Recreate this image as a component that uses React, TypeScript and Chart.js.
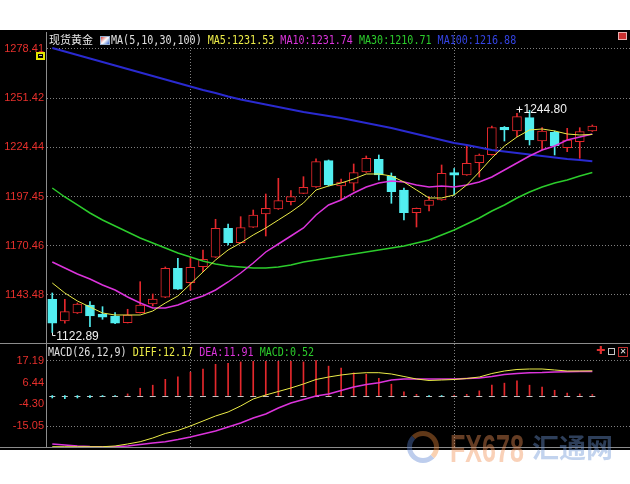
import React, { useEffect, useRef } from 'react';
import { Chart, registerables } from 'chart.js';

Chart.register(...registerables);

// ---------- data ----------
const opens = [1141.12, 1129.22, 1133.61, 1138.0, 1132.9, 1131.96, 1128.29, 1133.77, 1138.55, 1142.22, 1158.13, 1150.23, 1159.01, 1164.16, 1180.07, 1172.17, 1180.62, 1187.91, 1190.65, 1194.66, 1199.26, 1202.72, 1217.15, 1203.27, 1204.75, 1210.95, 1217.91, 1208.75, 1201.07, 1188.62, 1192.57, 1195.59, 1210.56, 1209.3, 1215.99, 1220.44, 1235.47, 1233.44, 1240.73, 1227.95, 1232.72, 1224.28, 1227.57, 1233.44];
const highs = [1144.58, 1141.12, 1139.1, 1139.81, 1137.07, 1133.77, 1135.64, 1150.78, 1144.03, 1158.84, 1163.61, 1164.16, 1168.16, 1185.0, 1182.43, 1186.43, 1190.1, 1198.88, 1207.49, 1200.69, 1208.37, 1218.19, 1217.53, 1207.11, 1215.34, 1219.72, 1220.27, 1210.4, 1202.17, 1191.2, 1197.4, 1214.79, 1212.87, 1225.76, 1220.8, 1236.18, 1235.9, 1243.14, 1244.8, 1235.25, 1233.44, 1234.91, 1235.25, 1236.73];
const lows = [1122.89, 1127.96, 1133.33, 1126.09, 1130.15, 1127.7, 1128.13, 1133.61, 1137.45, 1142.0, 1146.5, 1146.22, 1156.26, 1164.0, 1170.91, 1172.0, 1180.5, 1175.84, 1190.4, 1192.85, 1199.1, 1202.55, 1203.27, 1195.75, 1200.53, 1210.67, 1206.56, 1193.78, 1184.62, 1180.78, 1189.56, 1195.4, 1198.33, 1209.1, 1208.21, 1220.2, 1227.95, 1230.31, 1225.76, 1223.01, 1220.27, 1222.08, 1218.46, 1233.17];
const closes = [1127.96, 1134.32, 1138.55, 1131.96, 1131.25, 1127.96, 1132.51, 1138.0, 1141.29, 1158.13, 1146.61, 1158.68, 1163.06, 1180.07, 1172.17, 1180.4, 1187.36, 1191.04, 1195.21, 1197.4, 1202.55, 1216.6, 1203.82, 1205.35, 1210.56, 1218.46, 1209.3, 1200.14, 1188.62, 1191.04, 1195.59, 1210.23, 1209.14, 1215.72, 1220.27, 1235.36, 1233.98, 1241.28, 1228.5, 1233.44, 1225.37, 1228.5, 1233.05, 1236.18];

const ma5 = [1150.06, 1144.58, 1140.19, 1136.9, 1133.61, 1132.51, 1132.51, 1132.51, 1134.7, 1139.09, 1142.93, 1149.51, 1156.09, 1162.68, 1168.17, 1172.0, 1176.4, 1180.23, 1184.62, 1189.0, 1193.94, 1201.07, 1203.27, 1204.92, 1207.11, 1209.85, 1209.85, 1208.75, 1205.46, 1201.07, 1196.69, 1196.69, 1198.33, 1203.82, 1210.95, 1218.63, 1225.2, 1230.14, 1233.98, 1234.53, 1233.44, 1231.79, 1231.24, 1231.53];
const ma10 = [1161.58, 1158.29, 1154.99, 1152.25, 1148.96, 1146.22, 1142.38, 1139.09, 1136.35, 1136.35, 1137.99, 1140.74, 1142.93, 1146.22, 1150.61, 1155.54, 1161.03, 1167.07, 1171.45, 1175.84, 1180.23, 1187.36, 1192.85, 1195.59, 1199.43, 1202.72, 1204.92, 1206.01, 1205.46, 1203.82, 1202.72, 1203.27, 1202.72, 1203.82, 1205.46, 1208.2, 1212.04, 1215.88, 1219.72, 1223.01, 1225.2, 1228.5, 1230.14, 1231.74];
const ma30 = [1202.17, 1197.23, 1192.85, 1188.46, 1184.62, 1181.33, 1178.04, 1174.74, 1172.0, 1169.26, 1166.52, 1164.33, 1162.13, 1160.49, 1159.39, 1158.84, 1158.29, 1158.29, 1158.84, 1159.94, 1161.59, 1162.68, 1163.78, 1164.88, 1165.99, 1167.07, 1168.17, 1169.26, 1170.36, 1172.0, 1173.65, 1176.4, 1179.15, 1182.43, 1185.72, 1189.56, 1192.85, 1196.69, 1199.97, 1202.72, 1204.92, 1206.56, 1208.75, 1210.71];
const ma100 = [1278.96, 1277.04, 1275.12, 1273.2, 1271.28, 1269.36, 1267.44, 1265.52, 1263.6, 1261.68, 1259.76, 1257.84, 1255.92, 1254.28, 1252.36, 1250.71, 1249.34, 1247.97, 1246.6, 1245.23, 1243.86, 1242.76, 1241.66, 1240.56, 1239.19, 1237.82, 1236.45, 1235.08, 1233.43, 1231.79, 1230.14, 1228.5, 1226.85, 1225.76, 1224.39, 1223.02, 1222.19, 1221.37, 1220.55, 1219.72, 1218.9, 1218.08, 1217.53, 1216.88];

const diff = [-25.26, -25.26, -25.26, -25.26, -25.26, -24.91, -23.93, -22.79, -20.97, -18.74, -17.26, -15.04, -12.57, -10.11, -8.13, -5.17, -1.71, 0.26, 1.99, 3.71, 5.69, 7.91, 9.14, 10.13, 10.87, 11.27, 11.27, 10.63, 9.39, 8.16, 7.42, 7.66, 7.91, 8.4, 9.14, 10.87, 12.11, 12.85, 13.09, 13.09, 12.6, 12.11, 12.11, 12.17];
const dea = [-23.93, -24.42, -24.91, -25.16, -25.26, -25.26, -24.91, -24.17, -23.43, -22.79, -21.71, -20.47, -18.99, -17.51, -15.54, -13.57, -11.1, -9.13, -6.16, -3.69, -1.96, -0.23, 0.76, 2.48, 4.21, 5.44, 6.33, 7.66, 8.16, 8.16, 8.16, 8.16, 8.16, 8.4, 8.65, 9.39, 10.38, 10.87, 11.27, 11.37, 11.61, 11.76, 11.86, 11.91];
const macdHist = [-1.2, -1.5, -1.2, -1.0, -0.5, -0.3, 0.8, 3.6, 5.1, 8.0, 9.2, 11.5, 13.0, 15.4, 15.9, 16.6, 16.9, 16.9, 16.9, 16.9, 16.6, 17.19, 14.5, 13.5, 11.2, 10.5, 8.5, 5.6, 1.8, 0.6, -0.5, -0.3, 0.2, 0.6, 2.3, 5.1, 6.1, 7.2, 5.1, 4.2, 2.6, 1.2, 0.8, 0.52];

const priceTicks = [1143.48, 1170.46, 1197.45, 1224.44, 1251.42, 1278.41];
const macdTicks = [-15.05, -4.3, 6.44, 17.19];
const macdGridTicks = [-15.05, 17.19];
const monthStartIdx = [11, 32];

// ---------- styles ----------
const RED = '#e4282c';
const CYAN = '#52eef0';
const GRID = 'rgba(150,150,150,0.85)';
const AXIS = '#8c8c8c';
const LABEL_RED = '#e8302c';
const C_MA5 = '#ecec48';
const C_MA10 = '#dc34dc';
const C_MA30 = '#2ccc2c';
const C_MA100 = '#2a2ad0';

const PRICE_MIN = 1116.6;
const PRICE_MAX = 1287.73;
const MACD_MIN = -25.9;
const MACD_MAX = 25.43;
const X_MIN = -0.5;
const X_MAX = 46;

const pts = (arr: number[]) => arr.map((v, i) => ({ x: i, y: v }));
const isUp = opens.map((o, i) => closes[i] >= o);
const last = (a: number[]) => a[a.length - 1].toFixed(2);

function xScale(): any {
  return {
    type: 'linear',
    min: X_MIN,
    max: X_MAX,
    offset: false,
    afterBuildTicks: (s: any) => {
      s.ticks = monthStartIdx.map((v) => ({ value: v }));
    },
    afterFit: (s: any) => {
      s.height = 0;
      s.paddingLeft = 0;
      s.paddingRight = 0;
    },
    ticks: { display: false },
    grid: { color: GRID, drawTicks: false, offset: false, lineWidth: 1 },
    border: { display: false, dash: [1, 2] },
  };
}

function yScale(ticks: number[], min: number, max: number, gridColor: any): any {
  return {
    type: 'linear',
    position: 'left',
    min,
    max,
    beginAtZero: false,
    afterBuildTicks: (s: any) => {
      s.ticks = ticks.map((v) => ({ value: v }));
    },
    afterFit: (s: any) => {
      s.width = 46;
      s.paddingTop = 0;
      s.paddingBottom = 0;
    },
    ticks: {
      color: LABEL_RED,
      padding: 2,
      autoSkip: false,
      font: { family: '"Liberation Sans", Arial, sans-serif', size: 11 },
      callback: (v: any) => Number(v).toFixed(2),
    },
    grid: { color: gridColor, drawTicks: false, lineWidth: 1 },
    border: { display: true, color: AXIS, width: 1, dash: [1, 2] },
  };
}

const extremaPlugin = {
  id: 'extrema',
  afterDatasetsDraw(chart: any) {
    const { ctx, scales } = chart;
    const x = scales.x;
    const y = scales.y;
    let hi = 0;
    let lo = 0;
    highs.forEach((v, i) => {
      if (v > highs[hi]) hi = i;
    });
    lows.forEach((v, i) => {
      if (v < lows[lo]) lo = i;
    });
    ctx.save();
    ctx.fillStyle = '#f2f2f2';
    ctx.strokeStyle = '#f2f2f2';
    ctx.lineWidth = 1;
    ctx.font = '12px "Liberation Sans", Arial, sans-serif';
    ctx.textAlign = 'left';
    ctx.textBaseline = 'alphabetic';
    const hx = x.getPixelForValue(hi);
    const hy = y.getPixelForValue(highs[hi]);
    const mx = Math.round(hx - 11) + 0.5;
    const my = Math.round(hy - 1) + 0.5;
    ctx.beginPath();
    ctx.moveTo(mx - 3, my);
    ctx.lineTo(mx + 3, my);
    ctx.moveTo(mx, my - 3);
    ctx.lineTo(mx, my + 3);
    ctx.stroke();
    ctx.fillText(highs[hi].toFixed(2), hx - 6, hy + 3);
    const lx = x.getPixelForValue(lo);
    const ly = y.getPixelForValue(lows[lo]);
    const kx = Math.round(lx) + 0.5;
    ctx.beginPath();
    ctx.moveTo(kx, ly);
    ctx.lineTo(kx, ly + 3);
    ctx.lineTo(kx + 3, ly + 3);
    ctx.stroke();
    ctx.fillText(lows[lo].toFixed(2), lx + 4, ly + 7);
    ctx.restore();
  },
};

const zeroBasePlugin = {
  id: 'zeroBase',
  beforeDatasetsDraw(chart: any) {
    const { ctx, scales } = chart;
    const x = scales.x;
    const y = scales.y;
    const y0 = Math.round(y.getPixelForValue(0)) + 0.5;
    ctx.save();
    ctx.strokeStyle = '#c4c4c4';
    ctx.lineWidth = 1;
    ctx.beginPath();
    macdHist.forEach((_, i) => {
      const px = x.getPixelForValue(i);
      ctx.moveTo(px - 3, y0);
      ctx.lineTo(px + 3, y0);
    });
    ctx.stroke();
    ctx.restore();
  },
};

const baseOptions = {
  animation: false,
  responsive: false,
  maintainAspectRatio: false,
  events: [],
  layout: { padding: 0 },
  plugins: { legend: { display: false }, tooltip: { enabled: false } },
};

const mono: React.CSSProperties = {
  fontFamily: '"DejaVu Sans Mono", "Liberation Mono", monospace',
  fontSize: 12,
  lineHeight: '12px',
  whiteSpace: 'pre',
  transform: 'scaleX(0.837)',
  transformOrigin: '0 0',
  position: 'absolute',
};

export default function App() {
  const mainRef = useRef<HTMLCanvasElement | null>(null);
  const macdRef = useRef<HTMLCanvasElement | null>(null);

  useEffect(() => {
    if (!mainRef.current || !macdRef.current) return;
    const lineDs = (data: number[], color: string, width: number, order: number) => ({
      type: 'line',
      data: pts(data),
      borderColor: color,
      borderWidth: width,
      pointRadius: 0,
      tension: 0,
      fill: false,
      order,
    });

    const main = new Chart(mainRef.current, {
      type: 'bar',
      data: {
        datasets: [
          lineDs(ma5, C_MA5, 1, 1),
          lineDs(ma10, C_MA10, 1.5, 2),
          lineDs(ma30, C_MA30, 1.5, 3),
          lineDs(ma100, C_MA100, 2, 4),
          {
            type: 'bar',
            data: opens.map((o, i) => ({ x: i, y: [o, closes[i]] })),
            backgroundColor: isUp.map((u) => (u ? '#000000' : CYAN)),
            borderColor: isUp.map((u) => (u ? RED : CYAN)),
            borderWidth: 1,
            borderSkipped: false,
            grouped: false,
            barThickness: 9,
            maxBarThickness: 9,
            barPercentage: 1,
            categoryPercentage: 1,
            order: 5,
          },
          {
            type: 'bar',
            data: lows.map((l, i) => ({ x: i, y: [l, highs[i]] })),
            backgroundColor: isUp.map((u) => (u ? RED : CYAN)),
            borderWidth: 0,
            grouped: false,
            barThickness: 1,
            maxBarThickness: 1,
            barPercentage: 1,
            categoryPercentage: 1,
            order: 6,
          },
        ] as any,
      },
      options: {
        ...baseOptions,
        scales: { x: xScale(), y: yScale(priceTicks, PRICE_MIN, PRICE_MAX, GRID) },
      } as any,
      plugins: [extremaPlugin],
    });

    const macd = new Chart(macdRef.current, {
      type: 'bar',
      data: {
        datasets: [
          lineDs(diff, C_MA5, 1, 1),
          lineDs(dea, C_MA10, 1.5, 2),
          {
            type: 'bar',
            data: pts(macdHist),
            backgroundColor: macdHist.map((v) => (v >= 0 ? RED : CYAN)),
            borderWidth: 0,
            grouped: false,
            barThickness: 1,
            maxBarThickness: 1,
            barPercentage: 1,
            categoryPercentage: 1,
            order: 3,
          },
        ] as any,
      },
      options: {
        ...baseOptions,
        scales: {
          x: xScale(),
          y: yScale(macdTicks, MACD_MIN, MACD_MAX, (c: any) =>
            c.tick && macdGridTicks.includes(c.tick.value) ? GRID : 'rgba(0,0,0,0)'
          ),
        },
      } as any,
      plugins: [zeroBasePlugin],
    });

    return () => {
      main.destroy();
      macd.destroy();
    };
  }, []);

  return (
    <div style={{ position: 'absolute', left: 0, top: 0, width: 630, height: 484, background: '#ffffff', overflow: 'hidden' }}>
      <div style={{ position: 'absolute', left: 0, top: 30, width: 630, height: 420, background: '#000000' }} />
      <canvas
        ref={mainRef}
        width={630}
        height={312}
        style={{ position: 'absolute', left: 0, top: 32, width: 630, height: 312, display: 'block' }}
      />
      <canvas
        ref={macdRef}
        width={630}
        height={104}
        style={{ position: 'absolute', left: 0, top: 344, width: 630, height: 104, display: 'block' }}
      />
      {/* panel borders */}
      <div style={{ position: 'absolute', left: 0, top: 343, width: 630, height: 1, background: AXIS }} />
      <div style={{ position: 'absolute', left: 0, top: 447, width: 630, height: 1, background: AXIS }} />

      {/* main header */}
      <div style={{ position: 'absolute', left: 49, top: 33, fontFamily: '"Noto Sans CJK SC", sans-serif', fontSize: 11, lineHeight: '12px', color: '#e6e6e6', whiteSpace: 'pre' }}>
        现货黄金
      </div>
      <div style={{ position: 'absolute', left: 100, top: 36, width: 10, height: 9, boxSizing: 'border-box', border: '1px solid #9ab0d0', background: 'linear-gradient(135deg,#d84040 0%,#ffffff 50%,#3a66d0 100%)' }} />
      <div style={{ ...mono, left: 111, top: 34 }}>
        <span style={{ color: '#e0e0e0' }}>MA(5,10,30,100)</span>
        {' '}
        <span style={{ color: C_MA5 }}>{`MA5:${last(ma5)}`}</span>
        {' '}
        <span style={{ color: C_MA10 }}>{`MA10:${last(ma10)}`}</span>
        {' '}
        <span style={{ color: C_MA30 }}>{`MA30:${last(ma30)}`}</span>
        {' '}
        <span style={{ color: '#3444e4' }}>{`MA100:${last(ma100)}`}</span>
      </div>
      <div style={{ position: 'absolute', left: 618, top: 32, width: 9, height: 8, boxSizing: 'border-box', background: '#c83030', border: '1px solid #e8b0b0' }} />
      <div style={{ position: 'absolute', left: 36, top: 52, width: 9, height: 8, boxSizing: 'border-box', border: '2px solid #e6e600', background: '#000' }}>
        <div style={{ position: 'absolute', left: 1, top: 1, width: 3, height: 1, background: '#bbbbbb' }} />
      </div>

      {/* MACD header */}
      <div style={{ ...mono, left: 48, top: 346 }}>
        <span style={{ color: '#e0e0e0' }}>MACD(26,12,9)</span>
        {' '}
        <span style={{ color: C_MA5 }}>{`DIFF:${last(diff)}`}</span>
        {' '}
        <span style={{ color: C_MA10 }}>{`DEA:${last(dea)}`}</span>
        {' '}
        <span style={{ color: C_MA30 }}>{`MACD:${last(macdHist)}`}</span>
      </div>
      <div style={{ position: 'absolute', left: 596, top: 345, fontFamily: '"DejaVu Sans", sans-serif', fontSize: 11, lineHeight: '12px', color: '#e03030', fontWeight: 'bold' }}>✚</div>
      <div style={{ position: 'absolute', left: 608, top: 348, width: 7, height: 7, boxSizing: 'border-box', border: '1px solid #c8c8c8' }} />
      <div style={{ position: 'absolute', left: 618, top: 347, width: 10, height: 10, boxSizing: 'border-box', border: '1px solid #c03030', color: '#e8e8e8', fontFamily: '"DejaVu Sans", sans-serif', fontSize: 8, lineHeight: '8px', textAlign: 'center' }}>✕</div>

      {/* watermark */}
      <div style={{ position: 'absolute', left: 407, top: 431, width: 32, height: 32, boxSizing: 'border-box', borderRadius: '50%', borderStyle: 'solid', borderWidth: 5, borderColor: 'rgba(240,140,60,0.4) rgba(240,140,60,0.4) rgba(90,130,210,0.4) rgba(90,130,210,0.4)' }} />
      <div style={{ position: 'absolute', left: 450, top: 430, fontFamily: '"Liberation Sans", Arial, sans-serif', fontWeight: 'bold', fontSize: 38, lineHeight: '38px', color: 'rgba(240,145,85,0.42)', transform: 'scaleX(0.66)', transformOrigin: '0 0', whiteSpace: 'pre' }}>
        FX678
      </div>
      <div style={{ position: 'absolute', left: 532, top: 433, fontFamily: '"Noto Sans CJK SC", sans-serif', fontWeight: 'bold', fontSize: 27, lineHeight: '28px', color: 'rgba(110,150,215,0.42)', whiteSpace: 'pre' }}>
        汇通网
      </div>
    </div>
  );
}
